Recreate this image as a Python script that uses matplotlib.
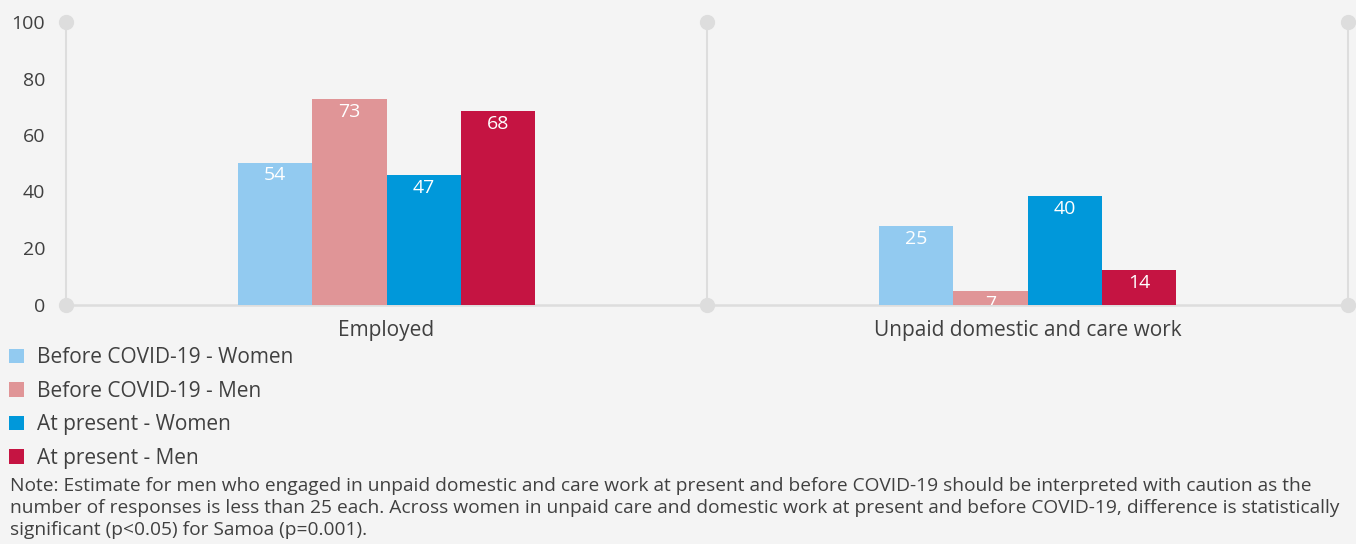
import numpy as np
import matplotlib.pyplot as plt
from matplotlib.patches import Patch

# Categories and series (bar heights as drawn, labels as printed)
categories = ['Employed', 'Unpaid domestic and care work']
series_names = ['Before COVID-19 - Women', 'Before COVID-19 - Men',
                'At present - Women', 'At present - Men']
heights = [
    [50.2, 27.7],   # Before COVID-19 - Women
    [72.7, 4.8],    # Before COVID-19 - Men
    [45.8, 38.4],   # At present - Women
    [68.5, 12.2],   # At present - Men
]
labels = [
    ['54', '25'],
    ['73', '7'],
    ['47', '40'],
    ['68', '14'],
]
colors = ['#92CAF0', '#E09597', '#0098DA', '#C51442']
yticks = [0, 20, 40, 60, 80, 100]

note = ("Note: Estimate for men who engaged in unpaid domestic and care work at present and before COVID-19 should be interpreted with caution as the\n"
        "number of responses is less than 25 each. Across women in unpaid care and domestic work at present and before COVID-19, difference is statistically\n"
        "significant (p<0.05) for Samoa (p=0.001).")

plt.rcParams['font.family'] = ['Open Sans', 'DejaVu Sans']
bg = '#F4F4F4'
grid_col = '#DDDDDD'
text_col = '#404040'

fig = plt.figure(figsize=(13.56, 5.44), dpi=100, facecolor=bg)
ax = fig.add_axes([66 / 1356, 1 - 304.5 / 544, (1348 - 66) / 1356, (304.5 - 22) / 544])
ax.set_facecolor(bg)

n = len(series_names)
width = 0.116
centers = np.arange(len(categories)) + 0.5

# grid lines with round end caps
for gx in range(len(categories) + 1):
    ax.plot([gx, gx], [0, 100], color=grid_col, lw=1.5, zorder=1, clip_on=False)
    ax.plot([gx, gx], [0, 100], 'o', color=grid_col, ms=10, zorder=1, clip_on=False)
ax.plot([0, len(categories)], [0, 0], color=grid_col, lw=1.8, zorder=1, clip_on=False)

for i in range(n):
    xs = centers + (i - (n - 1) / 2) * width
    ax.bar(xs, heights[i], width, color=colors[i], zorder=2, label=series_names[i])
    for x, h, lab in zip(xs, heights[i], labels[i]):
        ax.text(x, h - 4.5, lab, ha='center', va='center', color='white',
                fontsize=14, zorder=3, clip_on=True)

ax.set_xlim(0, len(categories))
ax.set_ylim(0, 100)
ax.set_yticks(yticks)
ax.set_yticklabels([str(v) for v in yticks], fontsize=14, color=text_col)
ax.set_xticks(centers)
ax.set_xticklabels(categories, fontsize=15, color=text_col)
ax.tick_params(axis='y', length=0, pad=15)
ax.tick_params(axis='x', length=0, pad=11)
for s in ax.spines.values():
    s.set_visible(False)

handles = [Patch(facecolor=c, label=l) for c, l in zip(colors, series_names)]
fig.legend(handles=handles, loc='upper left', bbox_to_anchor=(3 / 1356, 1 - 341 / 544),
           frameon=False, fontsize=15, handlelength=0.72, handleheight=0.72,
           handletextpad=0.6, labelspacing=0.6, borderaxespad=0, borderpad=0.3,
           labelcolor=text_col)

fig.text(10 / 1356, 1 - 477 / 544, note, fontsize=13.8, color=text_col,
         va='top', ha='left', linespacing=1.3)

fig.savefig('out.png', dpi=100, facecolor=bg)
